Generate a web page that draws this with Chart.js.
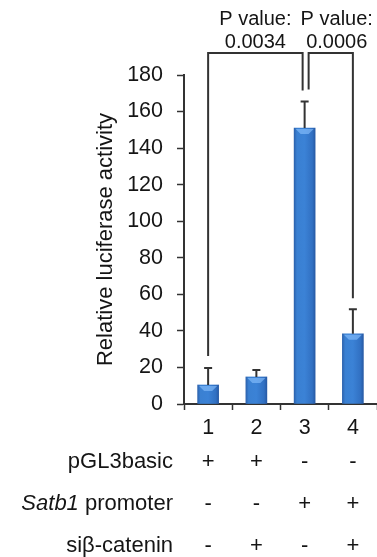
<!DOCTYPE html>
<html>
<head>
<meta charset="utf-8">
<script src="https://cdn.jsdelivr.net/npm/chart.js@4"></script>
<style>
  html, body { margin: 0; padding: 0; background: #fff; }
  #wrap { width: 377px; height: 557px; }
</style>
</head>
<body>
<div id="wrap"><canvas id="myChart" width="377" height="557"></canvas></div>
<script>
// values
const categories = ['1', '2', '3', '4'];
const activity = [10.4, 14.8, 151, 38.4];
const errorUp = [9.3, 3.8, 14.5, 13.5];
const yMin = 0, yMax = 180, yStep = 20;

// significance brackets: [bar a, bar b] and their p values
const comparisons = [[0, 2], [2, 3]];
const pValues = ['0.0034', '0.0006'];

// treatment table under the axis
const rowLabels = ['pGL3basic', 'Satb1 promoter', 'siβ-catenin'];
const pGL3basic = ['+', '+', '-', '-'];
const satb1Promoter = ['-', '-', '+', '+'];
const siBetaCatenin = ['-', '+', '-', '+'];
const tableRows = [pGL3basic, satb1Promoter, siBetaCatenin];

const FONT = 'Arial, "Liberation Sans", Helvetica, sans-serif';
const INK = '#151515';
const AXIS = '#333333';

function barFill(context) {
  const chart = context.chart;
  const xs = chart.scales.x;
  const cx = xs ? xs.getPixelForValue(context.dataIndex) : NaN;
  if (!isFinite(cx)) return '#3478cc';
  const g = chart.ctx.createLinearGradient(cx - 11, 0, cx + 11, 0);
  g.addColorStop(0, '#2a5ea8');
  g.addColorStop(0.15, '#3a80d2');
  g.addColorStop(0.5, '#3b82d6');
  g.addColorStop(0.85, '#3170c2');
  g.addColorStop(1, '#2556a0');
  return g;
}

const errorBars = {
  id: 'errorBars',
  afterDatasetsDraw(chart) {
    const ctx = chart.ctx;
    const y = chart.scales.y;
    const meta = chart.getDatasetMeta(0);
    ctx.save();
    ctx.strokeStyle = AXIS;
    ctx.lineWidth = 2;
    meta.data.forEach((bar, i) => {
      const top = y.getPixelForValue(activity[i] + errorUp[i]);
      // light cap highlight on the bar top
      ctx.fillStyle = 'rgba(140,195,255,0.6)';
      ctx.beginPath();
      ctx.moveTo(bar.x - 9, bar.y + 1);
      ctx.lineTo(bar.x + 9, bar.y + 1);
      ctx.lineTo(bar.x + 4, bar.y + 6);
      ctx.lineTo(bar.x - 4, bar.y + 6);
      ctx.closePath();
      ctx.fill();
      ctx.beginPath();
      ctx.moveTo(bar.x, bar.y);
      ctx.lineTo(bar.x, top);
      ctx.moveTo(bar.x - 4, top);
      ctx.lineTo(bar.x + 4, top);
      ctx.stroke();
    });
    ctx.restore();
  }
};

const brackets = {
  id: 'brackets',
  afterDraw(chart) {
    const ctx = chart.ctx;
    const xs = chart.scales.x;
    const y = chart.scales.y;
    const levelY = y.getPixelForValue(192);
    const useCount = {};
    comparisons.flat().forEach(i => { useCount[i] = (useCount[i] || 0) + 1; });
    ctx.save();
    ctx.strokeStyle = AXIS;
    ctx.lineWidth = 2;
    ctx.fillStyle = INK;
    ctx.font = '20px ' + FONT;
    ctx.textAlign = 'center';
    ctx.textBaseline = 'middle';
    comparisons.forEach(([a, b], k) => {
      const xa = xs.getPixelForValue(a) + (useCount[a] > 1 ? 4 : 0);
      const xb = xs.getPixelForValue(b) - (useCount[b] > 1 ? 2 : 0);
      const ya = y.getPixelForValue(activity[a] + errorUp[a]) - 12;
      const yb = y.getPixelForValue(activity[b] + errorUp[b]) - 11;
      ctx.beginPath();
      ctx.moveTo(xa, ya);
      ctx.lineTo(xa, levelY);
      ctx.lineTo(xb, levelY);
      ctx.lineTo(xb, yb);
      ctx.stroke();
      const mid = (xa + xb) / 2 + (k === 1 ? 6 : 0);
      ctx.fillText('P value:', mid, levelY - 34);
      ctx.fillText(pValues[k], mid, levelY - 11);
    });
    ctx.restore();
  }
};

const treatmentTable = {
  id: 'treatmentTable',
  afterDraw(chart) {
    const ctx = chart.ctx;
    const xs = chart.scales.x;
    const labelRight = chart.chartArea.left - 11;
    const firstRow = chart.chartArea.bottom + 58;
    const rowStep = 42;
    const size = '22px ';
    ctx.save();
    ctx.fillStyle = INK;
    ctx.textBaseline = 'middle';
    rowLabels.forEach((label, r) => {
      const yRow = firstRow + r * rowStep;
      if (label.startsWith('Satb1')) {
        const rest = label.slice(5);
        ctx.font = size + FONT;
        const wRest = ctx.measureText(rest).width;
        ctx.textAlign = 'right';
        ctx.fillText(rest, labelRight, yRow);
        ctx.font = 'italic ' + size + FONT;
        ctx.fillText('Satb1', labelRight - wRest, yRow);
      } else {
        ctx.font = size + FONT;
        ctx.textAlign = 'right';
        ctx.fillText(label, labelRight, yRow);
      }
      ctx.font = size + FONT;
      ctx.textAlign = 'center';
      tableRows[r].forEach((sign, i) => {
        ctx.fillText(sign, xs.getPixelForValue(i), yRow);
      });
    });
    ctx.restore();
  }
};

const data = {
  labels: categories,
  datasets: [{
    data: activity,
    backgroundColor: barFill,
    borderWidth: 0,
    barThickness: 21
  }]
};

const config = {
  type: 'bar',
  data: data,
  options: {
    responsive: false,
    animation: false,
    devicePixelRatio: 1,
    layout: { padding: { top: 75, right: -4, bottom: 0, left: 0 } },
    plugins: {
      legend: { display: false },
      tooltip: { enabled: false }
    },
    scales: {
      x: {
        afterFit: (scale) => { scale.height = 153; },
        grid: {
          drawOnChartArea: false,
          drawTicks: true,
          tickLength: 6,
          tickWidth: 1.5,
          tickColor: AXIS
        },
        border: { color: AXIS, width: 2 },
        ticks: {
          color: INK,
          padding: 5,
          font: { family: FONT, size: 21.5 }
        }
      },
      y: {
        min: yMin,
        max: yMax,
        afterFit: (scale) => { scale.width = 184; },
        grid: {
          drawOnChartArea: false,
          drawTicks: true,
          tickLength: 7,
          tickWidth: 1.5,
          tickColor: AXIS
        },
        border: { color: AXIS, width: 2 },
        ticks: {
          stepSize: yStep,
          color: INK,
          padding: 14,
          font: { family: FONT, size: 21.5 }
        },
        title: {
          display: true,
          text: 'Relative luciferase activity',
          color: INK,
          padding: { top: 93 },
          font: { family: FONT, size: 22 }
        }
      }
    }
  },
  plugins: [errorBars, brackets, treatmentTable]
};

new Chart(document.getElementById('myChart'), config);
</script>
</body>
</html>
